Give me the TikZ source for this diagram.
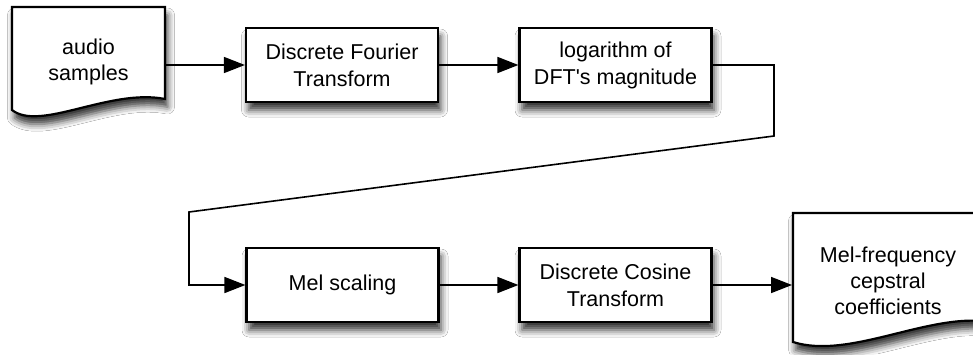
\documentclass[tikz,border=0pt]{standalone}
\usepackage{fontspec}
\setmainfont{Liberation Sans}
\usetikzlibrary{arrows.meta,shadows.blur,backgrounds}
\begin{document}
\begin{tikzpicture}[x=1pt,y=-1pt,
  softshadow/.style={blur shadow={shadow xshift=2.5pt,shadow yshift=-8pt,shadow blur radius=7pt,shadow opacity=80}},
  proc/.style={draw=black,line width=2.2pt,fill=white,minimum width=192pt,minimum height=74pt,inner sep=0pt,align=center,font=\fontsize{21.5}{27}\selectfont,softshadow},
  doctext/.style={inner sep=0pt,align=center,font=\fontsize{21.5}{26}\selectfont},
  docshape/.style={draw=black,line width=2.2pt,fill=white,line join=miter,softshadow},
  conn/.style={draw=black,opacity=1,line width=1.6pt,-{Triangle[length=21pt,width=16pt,fill=black]}}
]
\clip (0,0) rectangle (973,354);
\fill[white] (0,0) rectangle (973,354);

% document shapes
\path[docshape] (12,7) -- (165,7) -- (165,99) .. controls (110,88) and (40,132) .. (12,110) -- cycle;
\path[docshape] (793,213) -- (990,213) -- (990,322) .. controls (930,312) and (850,360) .. (793,342) -- cycle;

\node[doctext,minimum width=153pt,minimum height=110pt] (audio) at (88.5,62) {audio\\samples};
\node[doctext,minimum width=190pt] (out) at (888,281) {Mel-frequency\\cepstral\\coefficients};
\coordinate (outw) at (792,285);

\node[proc] (dft) at (342,65) {Discrete Fourier\\Transform};
\node[proc] (log) at (615.5,65) {logarithm of\\DFT\textquotesingle s magnitude};
\node[proc] (mel) at (342.5,285) {Mel scaling};
\node[proc] (dct) at (615.5,285) {Discrete Cosine\\Transform};

\coordinate (c1) at (774,136);
\coordinate (c2) at (189,212);

\draw[conn] (audio.east |- dft.west) -- (dft.west);
\draw[conn] (dft) -- (log);
\draw[conn] (log.east) -| (c1) -- (c2) |- (mel.west);
\draw[conn] (mel) -- (dct);
\draw[conn] (dct.east) -- (outw);
\end{tikzpicture}
\end{document}
